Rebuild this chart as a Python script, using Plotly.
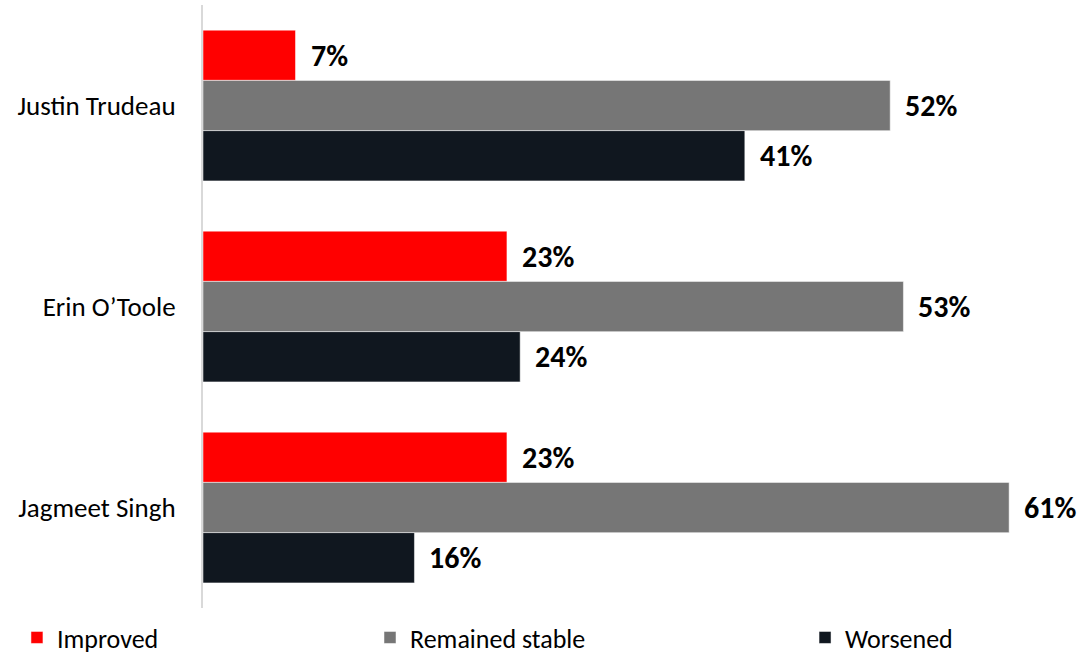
import plotly.graph_objects as go

categories = ["Justin Trudeau", "Erin O\u2019Toole", "Jagmeet Singh"]
series_names = ["Improved", "Remained stable", "Worsened"]
improved = [7, 23, 23]
stable = [52, 53, 61]
worsened = [41, 24, 16]
colors = ["#FF0000", "#767676", "#10171F"]

values = [improved, stable, worsened]
FONT = "Carlito, Lato, Liberation Sans, sans-serif"

fig = go.Figure()
legends = ["legend", "legend2", "legend3"]
for name, vals, col, lg in zip(series_names, values, colors, legends):
    fig.add_trace(go.Bar(
        y=categories, x=vals, name=name, orientation="h",
        marker=dict(color=col, line=dict(color="white", width=0.5)),
        legend=lg, hoverinfo="x+name",
    ))

# value labels placed through the axis scales
bar_px = 50.3
shifts = [-bar_px, 0, bar_px]
for vals, sh in zip(values, shifts):
    for cat, v in zip(categories, vals):
        fig.add_annotation(
            x=v, y=cat, xref="x", yref="y", text=f"<b>{v}%</b>",
            showarrow=False, xanchor="left", yanchor="middle",
            xshift=13, yshift=-sh,
            font=dict(family=FONT, size=30, color="#000000"),
        )

leg_common = dict(orientation="h", yanchor="middle", xanchor="left",
                  xref="container", yref="container", y=0.034,
                  font=dict(family=FONT, size=26, color="#000000"),
                  bgcolor="rgba(0,0,0,0)", itemwidth=30,
                  tracegroupgap=0)
fig.update_layout(
    width=1087, height=660,
    margin=dict(l=203, r=25, t=5, b=52, autoexpand=False),
    paper_bgcolor="white", plot_bgcolor="white",
    barmode="group", bargap=0.25, bargroupgap=0,
    font=dict(family=FONT, size=27, color="#000000"),
    xaxis=dict(range=[0, 65], showgrid=False, zeroline=False,
               showticklabels=False, showline=False, fixedrange=True),
    yaxis=dict(autorange="reversed", showline=True, linecolor="#D9D9D9",
               linewidth=2, ticks="", ticklabelstandoff=20, automargin=False,
               tickfont=dict(family=FONT, size=27, color="#000000"),
               showgrid=False, zeroline=False),
    legend=dict(x=0.0156, **leg_common),
    legend2=dict(x=0.3404, **leg_common),
    legend3=dict(x=0.7406, **leg_common),
    showlegend=True,
)

fig.write_html("out.html", config={"displayModeBar": False},
               post_script="document.body.style.margin='0';")
